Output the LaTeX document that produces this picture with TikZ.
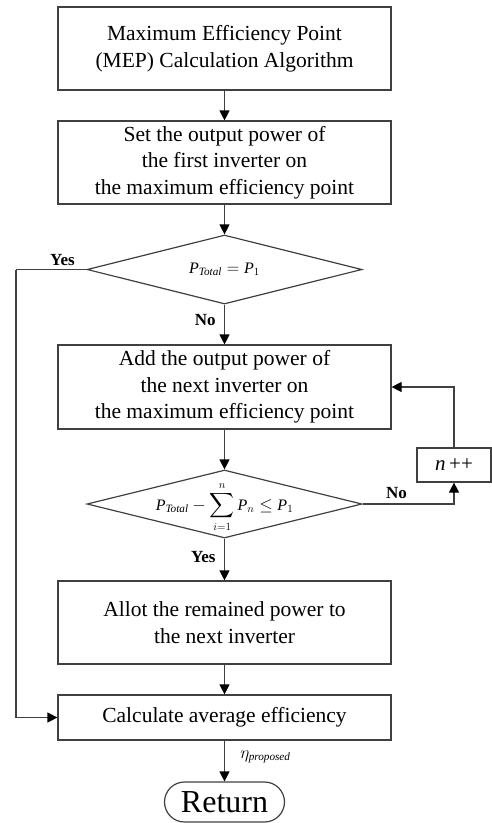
\documentclass[tikz,border=0pt]{standalone}
\usepackage{amsmath}
\usepackage{fontspec}
\setmainfont{Liberation Serif}
\usetikzlibrary{arrows.meta,shapes.geometric}
\begin{document}
\begin{tikzpicture}[x=1pt,y=-1pt,
  line width=1.2pt,
  ln/.style={draw=black!75},
  arr/.style={draw=black!75,-{Triangle[length=10pt,width=10pt,color=black]}},
  box/.style={draw=black!75,rectangle,minimum width=333pt,align=center,inner sep=0pt,
    font=\fontsize{21.5}{26.5}\selectfont},
  dia/.style={draw=black!75,diamond,minimum width=275pt,minimum height=69pt,inner sep=0pt},
  mathtxt/.style={font=\fontsize{16}{19}\selectfont},
  lbl/.style={font=\fontsize{17}{20}\selectfont\bfseries},
  small/.style={draw=black!75,rectangle,minimum width=74pt,minimum height=34pt,inner sep=0pt,
    font=\fontsize{21}{24}\selectfont},
  term/.style={draw=black!75,rectangle,rounded corners=20pt,minimum width=120pt,minimum height=40pt,
    inner sep=0pt,font=\fontsize{32}{36}\selectfont}
]
\useasboundingbox (0,0) rectangle (492,823);

\node[box,minimum height=83pt] (b1) at (224.5,48.5) {Maximum Efficiency Point\\(MEP) Calculation Algorithm};
\node[box,minimum height=83pt] (b2) at (224.5,162.5) {Set the output power of\\the first inverter on\\the maximum efficiency point};
\node[dia] (d1) at (224.5,269.5) {};
\node[mathtxt] at (d1) {$\textit{P}_{\textit{Total}} = \textit{P}_{1}$};
\node[box,minimum height=84pt] (b3) at (224.5,387) {Add the output power of\\the next inverter on\\the maximum efficiency point};
\node[dia,minimum height=68pt] (d2) at (224.5,504) {};
\node[mathtxt,inner sep=0pt] at ([yshift=-3pt]d2.center) {$\textit{P}_{\textit{Total}} - \displaystyle\sum_{i=1}^{n} \textit{P}_{n} \leq \textit{P}_{1}$};
\node[small] (np) at (454,465) {\textit{n}\,++};
\node[box,minimum height=83pt] (b4) at (224.5,622.5) {Allot the remained power to\\the next inverter};
\node[box,minimum height=45pt] (b5) at (224.5,717.5) {Calculate average efficiency};
\node[term] (ret) at (224.5,802) {Return};

\coordinate (cl) at (16,269.5);

\draw[arr] (b1.south) -- (b2.north);
\draw[arr] (b2.south) -- (d1.north);
\draw[arr] (d1.south) -- node[lbl,left=5pt,pos=0.38] {No} (b3.north);
\draw[ln] (d1.west) -- node[lbl,above=0pt,pos=0.34] {Yes} (cl);
\draw[arr] (cl) |- (b5.west);
\draw[arr] (b3.south) -- (d2.north);
\draw[arr] (d2.east) -| node[lbl,above=1pt,pos=0.185] {No} (np.south);
\draw[arr] (np.north) |- (b3.east);
\draw[arr] (d2.south) -- node[lbl,left=5pt,pos=0.45] {Yes} (b4.north);
\draw[arr] (b4.south) -- (b5.north);
\draw[arr] (b5.south) -- node[right=12pt,pos=0.4,font=\fontsize{16}{19}\selectfont] {$\eta_{\textit{proposed}}$} (ret.north);
\end{tikzpicture}
\end{document}
